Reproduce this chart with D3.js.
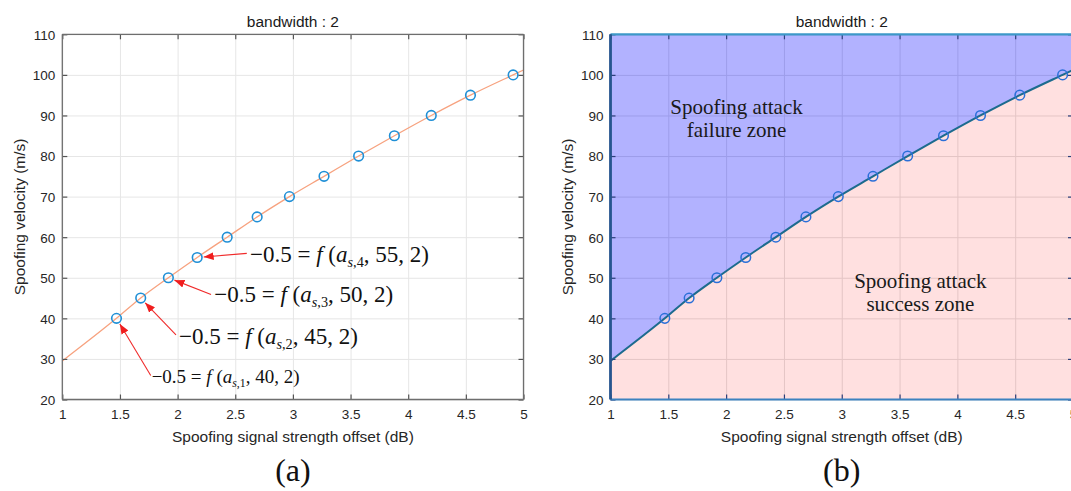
<!DOCTYPE html>
<html>
<head>
<meta charset="utf-8">
<script src="https://cdn.jsdelivr.net/npm/d3@7"></script>
<style>
  html, body { margin: 0; padding: 0; background: #ffffff; }
  svg { display: block; }
  .tick text { font-family: "Liberation Sans", Arial, sans-serif; font-size: 13.5px; fill: #262626; }
</style>
</head>
<body>
<svg id="fig" width="1071" height="491"></svg>
<script>
// Spoofing velocity (m/s) and the signal strength offset (dB) where f(...) = -0.5
const velocity = [40, 45, 50, 55, 60, 65, 70, 75, 80, 85, 90, 95, 100];
const strengthOffset = [1.47, 1.68, 1.92, 2.17, 2.43, 2.69, 2.97, 3.27, 3.57, 3.88, 4.20, 4.54, 4.91];

// fitted boundary continues to the x-axis limits
const boundaryStart = [1, 29.5];
const boundaryEnd = [5, 101.2];

const xTicks = [1, 1.5, 2, 2.5, 3, 3.5, 4, 4.5, 5];
const yTicks = [20, 30, 40, 50, 60, 70, 80, 90, 100, 110];
const xDomain = [1, 5];
const yDomain = [20, 110];

const titleText = "bandwidth : 2";
const xLabelText = "Spoofing signal strength offset (dB)";
const yLabelText = "Spoofing velocity (m/s)";
const panelLetters = ["(a)", "(b)"];

// equation callouts: which point, subscript index, text anchor and arrow tail (data units)
const calloutPoint = [0, 1, 2, 3];
const calloutIndex = ["1", "2", "3", "4"];
const calloutText = [[1.775, 24.1], [2.012, 33.7], [2.318, 44.15], [2.628, 54.0]];
const calloutTail = [[1.767, 25.9], [1.986, 35.9], [2.290, 45.9], [2.600, 56.0]];
const calloutSize = [19, 23, 23, 23];

const zoneLabels = [
  { lines: ["Spoofing attack", "failure zone"], at: [2.09, 90.35] },
  { lines: ["Spoofing attack", "success zone"], at: [3.68, 47.4] }
];

const svg = d3.select("#fig");
const SANS = '"Liberation Sans", Arial, sans-serif';
const SERIF = '"Liberation Serif", "Times New Roman", serif';

const y = d3.scaleLinear().domain(yDomain).range([399.5, 34.3]);
const xA = d3.scaleLinear().domain(xDomain).range([62.3, 523.5]);
const xB = d3.scaleLinear().domain(xDomain).range([610.5, 1073]);

const boundary = [boundaryStart].concat(strengthOffset.map((o, i) => [o, velocity[i]]), [boundaryEnd]);
const points = strengthOffset.map((o, i) => [o, velocity[i]]);

svg.append("defs").append("marker")
  .attr("id", "redhead")
  .attr("viewBox", "0 0 10 8")
  .attr("refX", 10).attr("refY", 4)
  .attr("markerUnits", "userSpaceOnUse")
  .attr("markerWidth", 10).attr("markerHeight", 8)
  .attr("orient", "auto")
  .append("path").attr("d", "M0,0 L10,4 L0,8 Z").attr("fill", "#f01e1e");

function drawGrid(g, x, color) {
  const [x0, x1] = x.range();
  const [yb, yt] = y.range();
  g.append("g").attr("transform", `translate(0,${yb})`)
    .call(d3.axisBottom(x).tickValues(xTicks).tickSize(-(yb - yt)).tickFormat(""))
    .call(s => s.select(".domain").remove())
    .call(s => s.selectAll("line").attr("stroke", color).attr("stroke-width", 1));
  g.append("g").attr("transform", `translate(${x0},0)`)
    .call(d3.axisLeft(y).tickValues(yTicks).tickSize(-(x1 - x0)).tickFormat(""))
    .call(s => s.select(".domain").remove())
    .call(s => s.selectAll("line").attr("stroke", color).attr("stroke-width", 1));
}

function drawFrame(g, x, opts) {
  const [x0, x1] = x.range();
  const [yb, yt] = y.range();
  const fmt = d => String(d);
  const bottom = g.append("g").attr("transform", `translate(0,${yb})`)
    .call(d3.axisBottom(x).tickValues(xTicks).tickSizeInner(-5).tickSizeOuter(0).tickFormat(fmt));
  const top = g.append("g").attr("transform", `translate(0,${yt})`)
    .call(d3.axisTop(x).tickValues(xTicks).tickSizeInner(-5).tickSizeOuter(0).tickFormat(""));
  const left = g.append("g").attr("transform", `translate(${x0},0)`)
    .call(d3.axisLeft(y).tickValues(yTicks).tickSizeInner(-5).tickSizeOuter(0).tickPadding(7).tickFormat(fmt));
  const right = g.append("g").attr("transform", `translate(${x1},0)`)
    .call(d3.axisRight(y).tickValues(yTicks).tickSizeInner(-5).tickSizeOuter(0).tickFormat(""));
  [bottom, top, left, right].forEach(a => {
    a.select(".domain").remove();
    a.selectAll(".tick line").attr("stroke", opts.tick).attr("stroke-width", 1.2);
  });
  bottom.selectAll(".tick text").attr("dy", "0.71em").attr("y", 10);
  left.selectAll(".tick text").attr("dy", "0.36em");

  // box edges
  const edge = (xa, ya, xb, yb2, c, w) => g.append("line")
    .attr("x1", xa).attr("y1", ya).attr("x2", xb).attr("y2", yb2)
    .attr("stroke", c).attr("stroke-width", w);
  edge(x0, yt, x1, yt, opts.edgeTop, opts.wTop);
  edge(x0, yb, x1, yb, opts.edgeBottom, opts.wBottom);
  edge(x1, yt, x1, yb, opts.edgeRight, opts.wRight);
  edge(x0, yt, x0, yb, opts.edgeLeft, opts.wLeft);

  const cx = (x0 + x1) / 2;
  g.append("text").attr("x", cx).attr("y", 27).attr("text-anchor", "middle")
    .attr("font-family", SANS).attr("font-size", 15.5).attr("fill", "#1a1a1a").text(titleText);
  g.append("text").attr("x", cx).attr("y", 442).attr("text-anchor", "middle")
    .attr("font-family", SANS).attr("font-size", 15.5).attr("fill", "#262626").text(xLabelText);
  g.append("text").attr("transform", `translate(${x0 - 43},${(yt + yb) / 2}) rotate(-90)`)
    .attr("text-anchor", "middle").attr("dy", "0.35em")
    .attr("font-family", SANS).attr("font-size", 15.5).attr("fill", "#262626").text(yLabelText);
  g.append("text").attr("x", cx).attr("y", 481).attr("text-anchor", "middle")
    .attr("font-family", SERIF).attr("font-size", 32).attr("fill", "#111").text(opts.letter);
}

const line = x => d3.line().x(d => x(d[0])).y(d => y(d[1])).curve(d3.curveMonotoneX);

// ---------- panel (a) ----------
const gA = svg.append("g");
drawGrid(gA, xA, "#e6e6e6");

gA.append("path").datum(boundary).attr("d", line(xA))
  .attr("fill", "none").attr("stroke", "#f7a27f").attr("stroke-width", 1.3);
gA.selectAll("circle.pt").data(points).join("circle").attr("class", "pt")
  .attr("cx", d => xA(d[0])).attr("cy", d => y(d[1])).attr("r", 4.8)
  .attr("fill", "none").attr("stroke", "#1f8fd6").attr("stroke-width", 1.6);

drawFrame(gA, xA, {
  tick: "#555", edgeTop: "#6e6e6e", edgeBottom: "#6e6e6e", edgeRight: "#6e6e6e", edgeLeft: "#6e6e6e",
  wTop: 1.3, wBottom: 1.3, wRight: 1.3, wLeft: 1.3, letter: panelLetters[0]
});

// equation callouts with red arrows
calloutPoint.forEach((pi, k) => {
  const px = xA(strengthOffset[pi]), py = y(velocity[pi]);
  const tx = xA(calloutTail[k][0]), ty = y(calloutTail[k][1]);
  const len = Math.hypot(tx - px, ty - py);
  const ux = (tx - px) / len, uy = (ty - py) / len;
  gA.append("line")
    .attr("x1", tx).attr("y1", ty)
    .attr("x2", px + ux * 6.5).attr("y2", py + uy * 6.5)
    .attr("stroke", "#f02a2a").attr("stroke-width", 1.1)
    .attr("marker-end", "url(#redhead)");

  const fs = calloutSize[k];
  const t = gA.append("text")
    .attr("x", xA(calloutText[k][0])).attr("y", y(calloutText[k][1]))
    .attr("font-family", SERIF).attr("font-size", fs).attr("fill", "#111");
  t.append("tspan").text("\u22120.5 = ");
  t.append("tspan").attr("font-style", "italic").text("f");
  t.append("tspan").text(" (");
  t.append("tspan").attr("font-style", "italic").text("a");
  t.append("tspan").attr("font-style", "italic").attr("font-size", fs * 0.62).attr("dy", fs * 0.22).text("s");
  t.append("tspan").attr("font-size", fs * 0.62).text("," + calloutIndex[k]);
  t.append("tspan").attr("dy", -fs * 0.22).text(", " + velocity[pi] + ", 2)");
});

// ---------- panel (b) ----------
const gB = svg.append("g");
drawGrid(gB, xB, "#e1e1e1");

// translucent zones above and below the boundary
const area = d3.area().x(d => xB(d[0])).y1(d => y(d[1])).curve(d3.curveMonotoneX);
gB.append("path").datum(boundary).attr("d", area.y0(y(yDomain[1])))
  .attr("fill", "rgb(0,0,255)").attr("fill-opacity", 0.3);
gB.append("path").datum(boundary).attr("d", area.y0(y(yDomain[0])))
  .attr("fill", "rgb(255,0,0)").attr("fill-opacity", 0.12);

gB.append("path").datum(boundary).attr("d", line(xB))
  .attr("fill", "none").attr("stroke", "#1c6b8e").attr("stroke-width", 2);
gB.selectAll("circle.pt").data(points).join("circle").attr("class", "pt")
  .attr("cx", d => xB(d[0])).attr("cy", d => y(d[1])).attr("r", 4.8)
  .attr("fill", "none").attr("stroke", "#2a6fd8").attr("stroke-width", 1.5);

drawFrame(gB, xB, {
  tick: "#2c3f7a", edgeTop: "#3d98c8", edgeBottom: "#3c82bf", edgeRight: "#3c8ac4", edgeLeft: "#26558f",
  wTop: 2.2, wBottom: 2.2, wRight: 2.2, wLeft: 2.8, letter: panelLetters[1]
});

zoneLabels.forEach(z => {
  const t = gB.append("text")
    .attr("x", xB(z.at[0])).attr("y", y(z.at[1]))
    .attr("text-anchor", "middle")
    .attr("font-family", SERIF).attr("font-size", 21).attr("fill", "#1a1a1a");
  z.lines.forEach((s, i) => t.append("tspan").attr("x", xB(z.at[0])).attr("dy", i ? 23 : 0).text(s));
});
</script>
</body>
</html>
